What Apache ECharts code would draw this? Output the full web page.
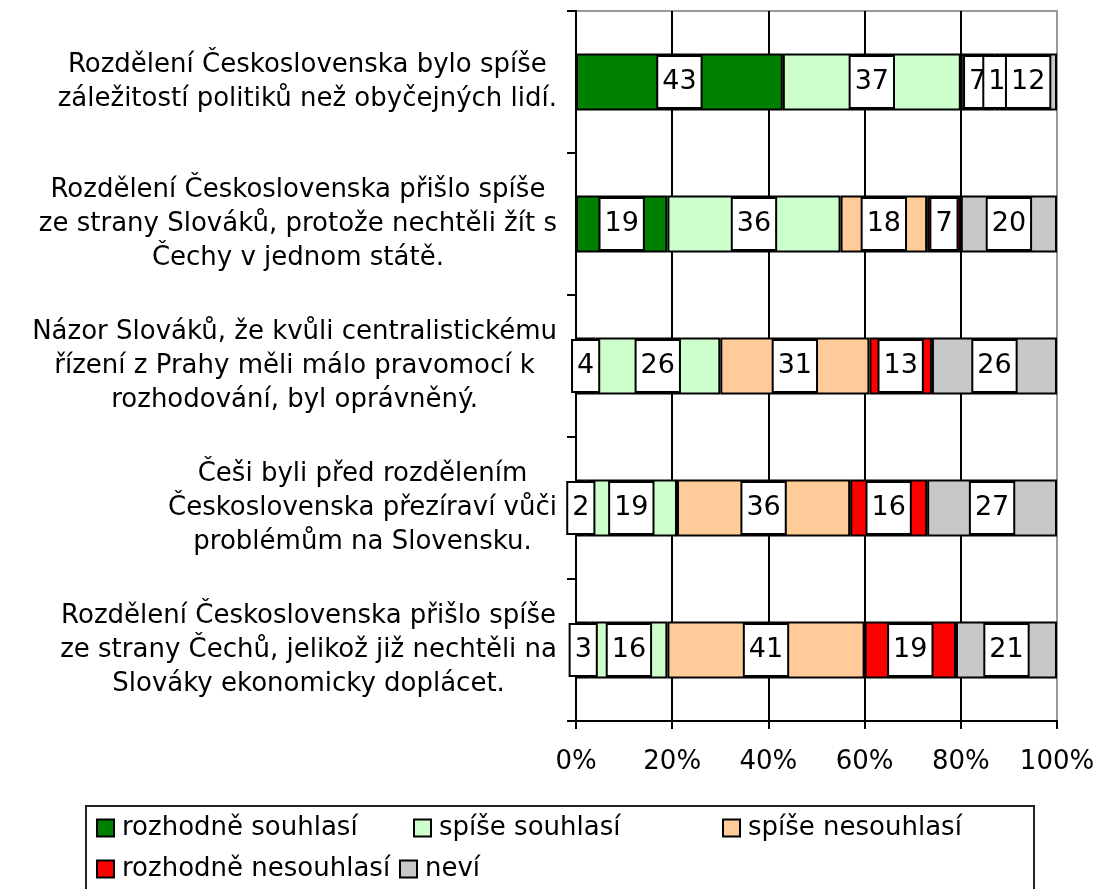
<!DOCTYPE html>
<html>
<head>
<meta charset="utf-8">
<script src="https://cdn.jsdelivr.net/npm/echarts@6/dist/echarts.min.js"></script>
<style>
  html, body { margin: 0; padding: 0; background: #fff; }
  #chart { width: 1106px; height: 889px; }
</style>
</head>
<body>
<div id="chart"></div>
<script>
// statements, top to bottom
const categories = [
  "Rozdělení Československa bylo spíše\nzáležitostí politiků než obyčejných lidí.",
  "Rozdělení Československa přišlo spíše\nze strany Slováků, protože nechtěli žít s\nČechy v jednom státě.",
  "Názor Slováků, že kvůli centralistickému\nřízení z Prahy měli málo pravomocí k\nrozhodování, byl oprávněný.",
  "Češi byli před rozdělením\nČeskoslovenska přezíraví vůči\nproblémům na Slovensku.",
  "Rozdělení Československa přišlo spíše\nze strany Čechů, jelikož již nechtěli na\nSlováky ekonomicky doplácet."
];
const seriesNames = ["rozhodně souhlasí", "spíše souhlasí", "spíše nesouhlasí", "rozhodně nesouhlasí", "neví"];
const rozhodneSouhlasi = [43, 19, 4, 2, 3];
const spiseSouhlasi = [37, 36, 26, 19, 16];
const spiseNesouhlasi = [7, 18, 31, 36, 41];
const rozhodneNesouhlasi = [1, 7, 13, 16, 19];
const nevi = [12, 20, 26, 27, 21];
const colors = ["#008000", "#CCFFCC", "#FFCC99", "#FF0000", "#C8C8C8"];
const xMin = 0, xMax = 100, xStep = 20;

const font = "DejaVu Sans";
const values = [rozhodneSouhlasi, spiseSouhlasi, spiseNesouhlasi, rozhodneNesouhlasi, nevi];

const chart = echarts.init(document.getElementById("chart"));

// legend items sit where the original put them, not in a regular row
const legendPos = [
  { left: 96, top: 814 },
  { left: 413, top: 814 },
  { left: 722, top: 814 },
  { left: 96, top: 855 },
  { left: 399, top: 855 }
];

chart.setOption({
  animation: false,
  textStyle: { fontFamily: font },
  grid: {
    left: 576,
    right: 49,
    top: 11,
    bottom: 168,
    show: true,
    borderColor: "#999",
    borderWidth: 2
  },
  legend: seriesNames.map((name, i) => ({
    data: [name],
    left: legendPos[i].left,
    top: legendPos[i].top,
    padding: 0,
    icon: "rect",
    itemWidth: 17,
    itemHeight: 17,
    selectedMode: false,
    textStyle: { fontFamily: font, fontSize: 26, lineHeight: 28, color: "#000", padding: [0, 0, 0, 3] }
  })),
  graphic: [{
    type: "rect",
    shape: { x: 86, y: 806, width: 948, height: 120 },
    style: { fill: "none", stroke: "#222", lineWidth: 2 },
    silent: true
  }],
  xAxis: {
    type: "value",
    min: xMin,
    max: xMax,
    interval: xStep,
    axisLine: { show: true, lineStyle: { color: "#000", width: 2 } },
    axisTick: { show: true, length: 8, lineStyle: { color: "#000", width: 2 } },
    axisLabel: { formatter: "{value}%", fontFamily: font, fontSize: 26, color: "#000", margin: 28 },
    splitLine: { show: true, showMinLine: false, showMaxLine: false, lineStyle: { color: "#000", width: 2 } }
  },
  yAxis: {
    type: "category",
    inverse: true,
    data: categories,
    axisLine: { show: true, lineStyle: { color: "#000", width: 2 } },
    axisTick: { show: true, length: 9, lineStyle: { color: "#000", width: 2 } },
    axisLabel: {
      margin: 19,
      formatter: (v) => v.split("\n").map((l) => "{c|" + l + "}").join("\n"),
      rich: {
        c: { align: "center", fontFamily: font, fontSize: 26, lineHeight: 34, color: "#000" }
      }
    }
  },
  series: seriesNames.map((name, i) => ({
    name: name,
    type: "bar",
    stack: "total",
    barWidth: "40%",
    data: values[i],
    itemStyle: { color: colors[i], borderColor: "#000", borderWidth: 2 },
    label: {
      show: true,
      position: "inside",
      formatter: "{c}",
      fontFamily: font,
      fontSize: 27,
      lineHeight: 30,
      color: "#000",
      backgroundColor: "#fff",
      borderColor: "#000",
      borderWidth: 2,
      padding: [11, 4, 9, 4]
    }
  }))
});
</script>
</body>
</html>
